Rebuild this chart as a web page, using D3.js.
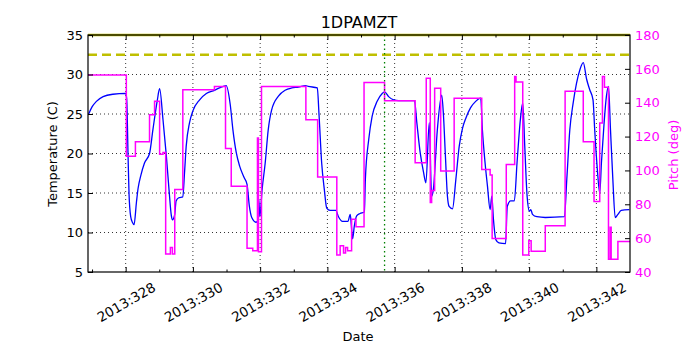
<!DOCTYPE html>
<html>
<head>
<meta charset="utf-8">
<script src="https://cdn.jsdelivr.net/npm/d3@7"></script>
<style>
body { margin: 0; background: #fff; }
text { font-family: "DejaVu Sans", sans-serif; }
</style>
</head>
<body>
<div id="chart"></div>
<script>
// temperature trace (day of year, deg C)
var tempDays = [326.90, 327.00, 327.13, 327.33, 327.62, 328.00, 328.03, 328.07, 328.10, 328.15, 328.20, 328.25,
    328.32, 328.37, 328.45, 328.56, 328.71, 328.81, 328.94, 329.01, 329.11, 329.21, 329.29, 329.36, 329.39,
    329.46, 329.50, 329.58, 329.70, 329.75, 329.80, 329.90, 330.00, 330.20, 330.40, 330.64, 330.79, 330.99,
    331.11, 331.19, 331.29, 331.39, 331.53, 331.61, 331.68, 331.75, 331.88, 331.93, 331.96, 331.99, 332.06,
    332.15, 332.24, 332.34, 332.55, 332.74, 332.94, 333.14, 333.35, 333.43, 333.70, 333.75, 333.83, 333.91,
    333.98, 334.08, 334.25, 334.33, 334.45, 334.61, 334.68, 334.71, 334.75, 334.80, 334.87, 334.97, 335.10,
    335.13, 335.23, 335.33, 335.48, 335.63, 335.70, 335.82, 335.97, 336.12, 336.59, 336.66, 336.76, 336.86,
    336.93, 337.03, 337.10, 337.15, 337.27, 337.40, 337.45, 337.51, 337.57, 337.62, 337.72, 337.82, 337.92,
    338.02, 338.12, 338.26, 338.41, 338.56, 338.61, 338.69, 338.76, 338.84, 338.89, 338.94, 339.01, 339.10,
    339.30, 339.35, 339.45, 339.56, 339.64, 339.74, 339.81, 339.87, 339.94, 340.01, 340.05, 340.10, 340.23,
    340.48, 341.05, 341.12, 341.21, 341.31, 341.41, 341.51, 341.61, 341.71, 341.80, 341.90, 341.95, 342.03,
    342.10, 342.15, 342.23, 342.30, 342.36, 342.42, 342.49, 342.56, 342.64, 342.74, 342.98];
var tempValues = [25.0, 25.9, 26.6, 27.2, 27.5, 27.6, 27.0, 20.0, 14.9, 12.0, 11.3, 11.0,
    13.8, 15.6, 17.2, 18.8, 20.0, 23.0, 26.7, 28.2, 24.3, 19.7, 15.4, 12.1, 11.6,
    12.3, 14.0, 14.4, 14.5, 17.5, 20.9, 23.9, 25.4, 26.8, 27.6, 28.0, 28.3, 28.6,
    26.2, 23.0, 20.1, 18.4, 16.9, 16.1, 13.3, 11.9, 11.3, 11.5, 14.2, 12.0, 15.5,
    18.8, 23.0, 25.5, 27.3, 28.0, 28.3, 28.4, 28.6, 28.5, 28.3, 25.0, 18.8, 15.4,
    13.1, 12.8, 12.8, 12.0, 11.4, 11.4, 12.3, 11.0, 9.2, 10.8, 12.1, 12.4, 12.6,
    16.8, 21.8, 24.7, 26.6, 27.6, 27.8, 27.2, 26.8, 26.7, 26.7, 23.9, 20.1, 17.6,
    16.3, 23.9, 14.6, 15.4, 23.0, 27.4, 25.0, 19.7, 14.6, 13.3, 13.0, 16.7, 20.9,
    23.2, 24.5, 25.8, 26.6, 27.0, 23.0, 18.8, 15.9, 12.9, 14.6, 11.6, 9.1, 8.7,
    8.6, 13.3, 14.0, 14.0, 18.8, 24.3, 26.4, 20.9, 14.6, 12.7, 12.9, 12.3, 12.0,
    11.9, 12.0, 16.7, 23.0, 26.4, 28.9, 30.6, 31.5, 29.4, 28.1, 26.8, 23.0, 17.9,
    15.0, 18.8, 23.9, 27.3, 28.5, 23.0, 16.7, 11.9, 12.3, 12.8, 12.9];

// pitch steps (day of year, deg), each value holds until the next day
var pitchDays = [326.88, 328.02, 328.29, 328.71, 328.86, 329.01, 329.11, 329.19, 329.33, 329.39, 329.46,
    329.70, 330.64, 330.97, 331.14, 331.61, 331.78, 331.92, 331.95, 332.04, 333.36, 333.71, 334.28, 334.38,
    334.48, 334.54, 334.60, 334.72, 334.85, 335.09, 335.70, 336.61, 336.94, 337.06, 337.10, 337.19, 337.37,
    337.77, 338.59, 338.84, 338.90, 339.32, 339.57, 339.61, 339.81, 339.99, 340.06, 340.48, 341.07, 341.61,
    341.93, 342.10, 342.18, 342.24, 342.36, 342.41, 342.44, 342.64, 343.00];
var pitchValues = [156.3, 108.4, 116.9, 132.9, 140.8, 109.6, 110.6, 50.6, 54.5, 50.6, 88.8,
    147.6, 149.6, 113.0, 90.6, 54.0, 52.6, 119.2, 52.0, 149.6, 130.0, 96.1, 50.0, 55.5,
    51.2, 54.5, 52.6, 71.2, 66.7, 152.0, 141.2, 104.5, 154.5, 81.0, 88.2, 148.6, 99.6,
    142.7, 100.6, 97.3, 59.8, 103.5, 155.5, 152.2, 50.0, 58.4, 52.2, 67.3, 146.7, 116.9,
    81.6, 128.0, 155.5, 149.2, 47.6, 66.5, 47.6, 58.0, 58.0];

var xTickDays = [328, 330, 332, 334, 336, 338, 340, 342];
var xTickLabels = ["2013:328", "2013:330", "2013:332", "2013:334", "2013:336", "2013:338", "2013:340", "2013:342"];
var xMinorDays = [327, 329, 331, 333, 335, 337, 339, 341];
var tempTicks = [5, 10, 15, 20, 25, 30, 35];
var pitchTicks = [40, 60, 80, 100, 120, 140, 160, 180];
var tempLimit = 32.5;
var markerDay = 335.70;

var width = 700, height = 350;
var pLeft = 88, pRight = 630, pTop = 35, pBottom = 272;

var svg = d3.select("#chart").append("svg")
    .attr("width", width).attr("height", height);

var x = d3.scaleLinear().domain([326.88, 343.0]).range([pLeft, pRight]);
var yT = d3.scaleLinear().domain([5, 35]).range([pBottom, pTop]);
var yP = d3.scaleLinear().domain([40, 180]).range([pBottom, pTop]);

svg.append("clipPath").attr("id", "clip")
    .append("rect").attr("x", pLeft).attr("y", pTop - 2)
    .attr("width", pRight - pLeft).attr("height", pBottom - pTop + 3);

// grid from the left axis and major date ticks
var grid = svg.append("g");
grid.selectAll(".gx").data(xTickDays).enter().append("line")
    .attr("x1", function (d) { return x(d); }).attr("x2", function (d) { return x(d); })
    .attr("y1", pTop).attr("y2", pBottom)
    .attr("stroke", "#000").attr("stroke-width", 0.8).attr("stroke-dasharray", "1,3");
grid.selectAll(".gy").data(tempTicks.slice(1, -1)).enter().append("line")
    .attr("x1", pLeft).attr("x2", pRight)
    .attr("y1", function (d) { return yT(d); }).attr("y2", function (d) { return yT(d); })
    .attr("stroke", "#000").attr("stroke-width", 0.8).attr("stroke-dasharray", "1,3");

var plot = svg.append("g").attr("clip-path", "url(#clip)");

var tempData = tempDays.map(function (d, i) { return [d, tempValues[i]]; });
var pitchData = pitchDays.map(function (d, i) { return [d, pitchValues[i]]; });

plot.append("path").datum(tempData)
    .attr("d", d3.line().x(function (d) { return x(d[0]); }).y(function (d) { return yT(d[1]); })
        .curve(d3.curveMonotoneX))
    .attr("fill", "none").attr("stroke", "#0000ff").attr("stroke-width", 1.3);

plot.append("line")
    .attr("x1", pLeft).attr("x2", pRight)
    .attr("y1", yT(tempLimit)).attr("y2", yT(tempLimit))
    .attr("stroke", "#bfbf00").attr("stroke-width", 2.5).attr("stroke-dasharray", "9,5");
plot.append("line")
    .attr("x1", pLeft).attr("x2", pRight)
    .attr("y1", yT(35)).attr("y2", yT(35))
    .attr("stroke", "#bfbf00").attr("stroke-width", 2.5);

plot.append("path").datum(pitchData)
    .attr("d", d3.line().x(function (d) { return x(d[0]); }).y(function (d) { return yP(d[1]); })
        .curve(d3.curveStepAfter))
    .attr("fill", "none").attr("stroke", "#ff00ff").attr("stroke-width", 1.5);

plot.append("line")
    .attr("x1", x(markerDay)).attr("x2", x(markerDay))
    .attr("y1", pTop).attr("y2", pBottom)
    .attr("stroke", "#008000").attr("stroke-width", 1.3).attr("stroke-dasharray", "1.5,3");

// axes, ticks pointing inward
function styleAxis(g) {
    g.select(".domain").remove();
    g.selectAll(".tick line").attr("stroke", "#000");
    g.selectAll("text").style("font-size", "13px").attr("fill", "#000");
}

var xAxis = svg.append("g").attr("transform", "translate(0," + pBottom + ")")
    .call(d3.axisBottom(x).tickValues(xTickDays).tickSize(-5)
        .tickFormat(function (d, i) { return xTickLabels[i]; }));
styleAxis(xAxis);
xAxis.selectAll("text")
    .style("font-size", "13.5px")
    .attr("x", 0).attr("y", 0).attr("dy", null)
    .attr("text-anchor", "middle").attr("dominant-baseline", "central")
    .attr("transform", "translate(0,30) rotate(-30)");

svg.append("g").attr("transform", "translate(0," + pBottom + ")")
    .call(d3.axisBottom(x).tickValues(xMinorDays).tickSize(-2.5).tickFormat(""))
    .call(styleAxis);
svg.append("g").attr("transform", "translate(0," + pTop + ")")
    .call(d3.axisTop(x).tickValues(xTickDays).tickSize(-5).tickFormat(""))
    .call(styleAxis);
svg.append("g").attr("transform", "translate(0," + pTop + ")")
    .call(d3.axisTop(x).tickValues(xMinorDays).tickSize(-2.5).tickFormat(""))
    .call(styleAxis);

var yAxisL = svg.append("g").attr("transform", "translate(" + pLeft + ",0)")
    .call(d3.axisLeft(yT).tickValues(tempTicks).tickSize(-5).tickPadding(5))
    .call(styleAxis);
yAxisL.selectAll("text").attr("x", -5);

var yAxisR = svg.append("g").attr("transform", "translate(" + pRight + ",0)")
    .call(d3.axisRight(yP).tickValues(pitchTicks).tickSize(-5).tickPadding(5))
    .call(styleAxis);
yAxisR.selectAll("text").attr("x", 5).attr("fill", "#ff00ff");

// frame
svg.append("rect")
    .attr("x", pLeft).attr("y", pTop)
    .attr("width", pRight - pLeft).attr("height", pBottom - pTop)
    .attr("fill", "none").attr("stroke", "#000").attr("stroke-width", 1.2);

svg.append("text")
    .attr("x", (pLeft + pRight) / 2).attr("y", 28)
    .attr("text-anchor", "middle").style("font-size", "16px")
    .text("1DPAMZT");
svg.append("text")
    .attr("x", 358).attr("y", 341)
    .attr("text-anchor", "middle").style("font-size", "13px")
    .text("Date");
svg.append("text")
    .attr("transform", "translate(57,154) rotate(-90)")
    .attr("text-anchor", "middle").style("font-size", "13px")
    .text("Temperature (C)");
svg.append("text")
    .attr("transform", "translate(678,155) rotate(-90)")
    .attr("text-anchor", "middle").style("font-size", "13px")
    .attr("fill", "#ff00ff")
    .text("Pitch (deg)");
</script>
</body>
</html>
